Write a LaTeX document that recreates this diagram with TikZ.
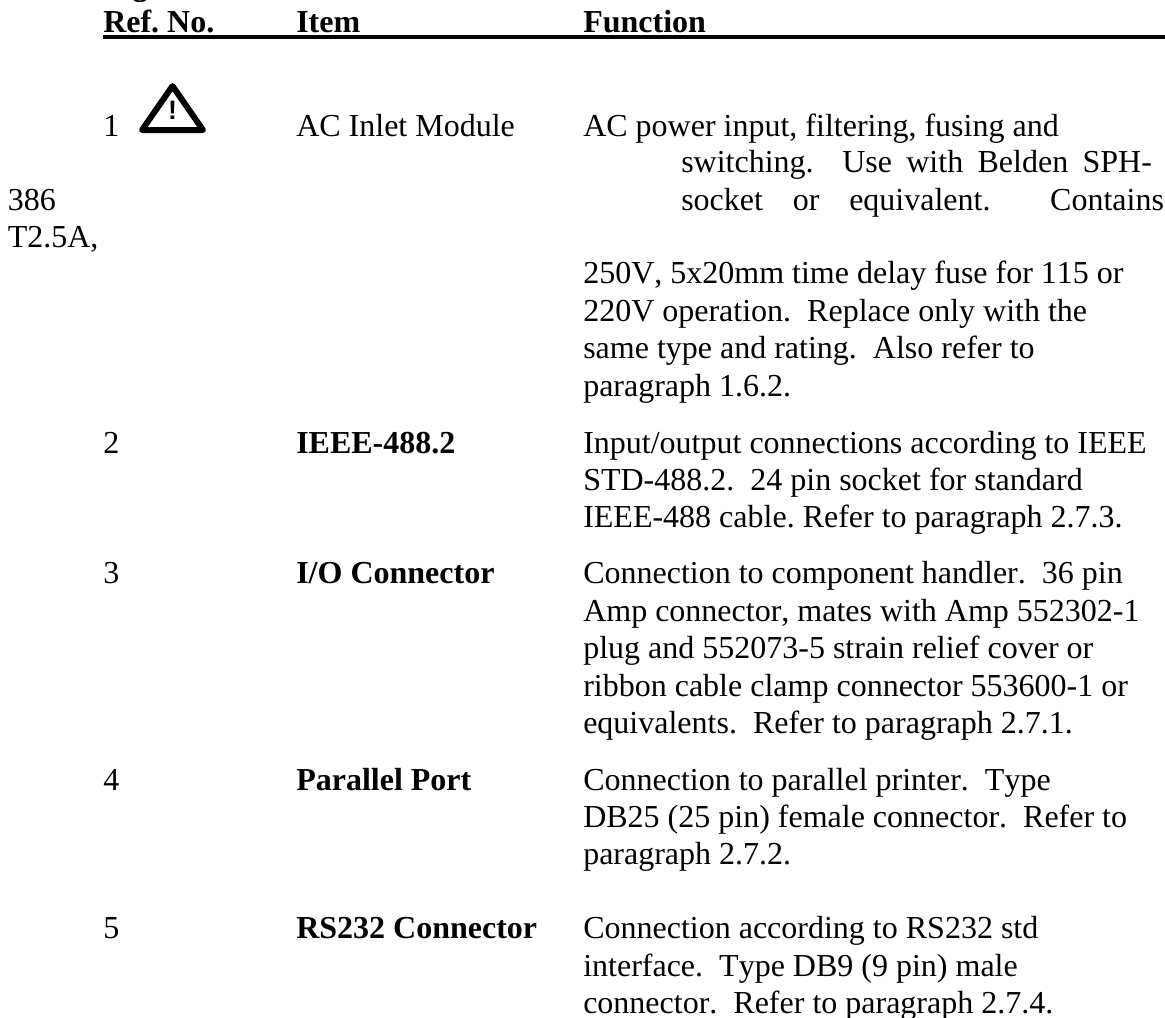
\documentclass[tikz,border=0pt]{standalone}
\usepackage{fontspec}
\setmainfont[Kerning=Off]{Liberation Serif}
\newfontfamily\signfont{Liberation Sans}

\tikzset{
	celltext/.style={anchor=base west, inner sep=0pt, font=\fontsize{24}{28}\selectfont\frenchspacing},
	cellbold/.style={celltext, font=\fontsize{24}{28}\selectfont\bfseries\frenchspacing}
}

\begin{document}
\begin{tikzpicture}[x=0.75pt, y=-0.75pt]
	\useasboundingbox (0, 0) rectangle (1165, 1018);

	% header
	\node[cellbold] (cut) at (132, -5) {g};
	\node[cellbold] (hdref) at (103, 32) {Ref. No.};
	\node[cellbold] (hditem) at (296, 32) {Item};
	\node[cellbold] (hdfunc) at (583, 32) {Function};
	\coordinate (ruleleft) at (103, 37);
	\coordinate (ruleright) at (1165, 37);
	\draw[line width=3.2pt] (ruleleft)--(ruleright);

	% reference numbers
	\foreach \n/\u in {1/136, 2/453, 3/583, 4/790, 5/938}
		{
			\node[celltext] (ref\n) at (103, \u) {\n};
		}

	% warning sign
	\draw[line width=4.5pt, line join=round] (172.5, 86)--(203, 130)--(142, 130)--cycle;
	\node[inner sep=0pt, font=\signfont\bfseries\fontsize{20}{20}\selectfont] (bang) at (172.5, 110) {!};

	% items
	\node[celltext] (item1) at (296, 136) {AC Inlet Module};
	\foreach \n/\u/\t in {2/453/IEEE-488.2, 3/583/I\slash O Connector, 4/790/Parallel Port, 5/938/RS232 Connector}
		{
			\node[cellbold] (item\n) at (296, \u) {\t};
		}

	% function column
	\foreach \u/\t in {136/{AC power input, filtering, fusing and},
			283/{250V, 5x20mm time delay fuse for 115 or},
			321/{220V operation.~~Replace only with the},
			358/{same type and rating.~~Also refer to},
			396/{paragraph 1.6.2.},
			453/{Input/output connections according to IEEE},
			490/{STD-488.2.~~24 pin socket for standard},
			527/{IEEE-488 cable. Refer to paragraph 2.7.3.},
			583/{Connection to component handler.~~36 pin},
			621/{Amp connector, mates with Amp 552302-1},
			658/{plug and 552073-5 strain relief cover or},
			696/{ribbon cable clamp connector 553600-1 or},
			733/{equivalents.~~Refer to paragraph 2.7.1.},
			790/{Connection to parallel printer.~~Type},
			827/{DB25 (25 pin) female connector.~~Refer to},
			864/{paragraph 2.7.2.},
			938/{Connection according to RS232 std},
			976/{interface.~~Type DB9 (9 pin) male},
			1013/{connector.~~Refer to paragraph 2.7.4.}}
		{
			\node[celltext] (func\u) at (583, \u) {\t};
		}

	% stretched lines and the two that stick out on the left
	\node[celltext] (func172) at (681, 172) {\makebox[353pt][s]{switching.\ \ Use with Belden SPH-}};
	\node[celltext] (func210) at (681, 210) {\makebox[362pt][s]{socket or equivalent.\ \ Contains}};
	\node[celltext] (left210) at (7.5, 210) {386};
	\node[celltext] (left247) at (7.5, 247) {T2.5A,};
\end{tikzpicture}
\end{document}
